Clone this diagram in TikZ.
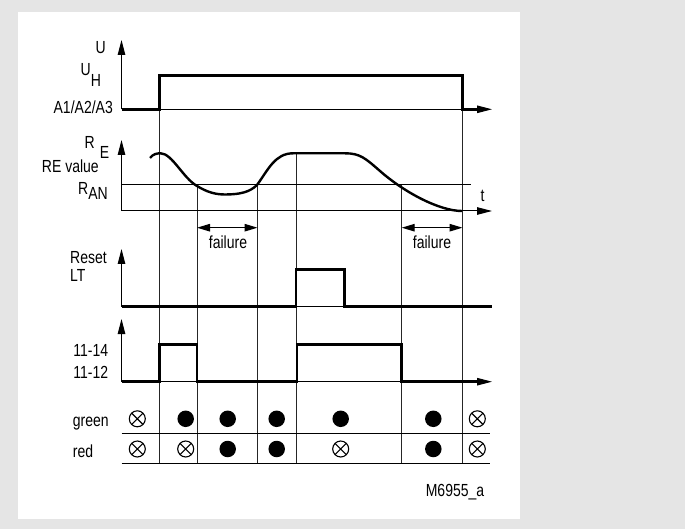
\documentclass[tikz,border=0pt]{standalone}
\usepackage{fontspec}
\setmainfont{Liberation Sans}[FakeStretch=0.8]
\usetikzlibrary{arrows.meta}

\begin{document}
\begin{tikzpicture}[
    x=1pt, y=-1pt,
    every node/.style={font=\fontsize{17.5}{20}\selectfont, inner sep=0pt},
    axis/.style={line width=1pt},
    timeaxis/.style={line width=1pt, -{Triangle[length=15pt, width=7.5pt]}},
    signal/.style={line width=2.6pt, line join=miter},
    timeline/.style={line width=1pt, black!85},
    span/.style={line width=1.2pt, {Triangle[length=13pt, width=7.5pt]}-{Triangle[length=13pt, width=7.5pt]}},
    lampon/.style={circle, fill, minimum size=16.5pt},
    lampoff/.style={circle, draw, line width=1.1pt, minimum size=16pt,
        path picture={\draw[line width=1.1pt] (path picture bounding box.north west) -- (path picture bounding box.south east)
            (path picture bounding box.north east) -- (path picture bounding box.south west);}}
]
% page and panel
\useasboundingbox (0,0) rectangle (685,529);
\fill[black!10] (0,0) rectangle (685,529);
\fill[white] (18,12) rectangle (520,519);

% switching instants
\draw[timeline] (159.5,75.5) -- (159.5,463.3);
\draw[timeline] (197,185) -- (197,463.3);
\draw[timeline] (257.5,185) -- (257.5,463.3);
\draw[timeline] (296,153.3) -- (296,463.3);
\draw[timeline] (401.7,185) -- (401.7,463.3);
\draw[timeline] (462.5,75.5) -- (462.5,463.3);

% supply voltage
\draw[timeaxis] (121.5,109.3) -- (121.5,40);
\draw[timeaxis] (121.5,109.3) -- (492,109.3);
\draw[signal] (121.5,109.3) -- (159.5,109.3) -- (159.5,75.5) -- (462.5,75.5) -- (462.5,109.3) -- (478,109.3);
\node[anchor=base east] (u) at (106,53.3) {U};
\node[anchor=base west] (uh) at (80.5,76) {U\raisebox{-11pt}{H}};
\node[anchor=base east] (a123) at (113,113.3) {A1/A2/A3};

% earth resistance
\draw[timeaxis] (121.5,211) -- (121.5,140);
\draw[timeaxis] (121.5,211) -- (492,211);
\draw[axis] (121.5,185) -- (471,185);
\draw[signal, line width=2.4pt] (150,158) .. controls (153,154) and (157,153.3) .. (160.5,153.3)
    .. controls (172,153.3) and (183,178) .. (197,186)
    .. controls (207,192) and (215,194.5) .. (225,194.5)
    .. controls (240,194.5) and (250,192) .. (257,185)
    .. controls (268,170) and (275,153.3) .. (293,153.3) -- (345,153.3)
    .. controls (360,153.3) and (365,158) .. (380,171)
    .. controls (405,193) and (440,211) .. (462,211);
\node[anchor=base west] (re) at (84.5,149) {R\hspace{5pt}\raisebox{-10pt}{E}};
\node[anchor=base east] (revalue) at (99,172.5) {RE value};
\node[anchor=base west] (ran) at (78,195) {R\raisebox{-5pt}{AN}};
\node[anchor=base] (t) at (482.5,201.7) {t};

% failure spans
\draw[span] (197,227.7) -- (257.5,227.7);
\draw[span] (401.7,227.7) -- (462.5,227.7);
\node[anchor=base] (fail1) at (228,248.3) {failure};
\node[anchor=base] (fail2) at (432,248.3) {failure};

% reset
\draw[timeaxis] (121.5,306.7) -- (121.5,249);
\draw[axis] (121.5,306.7) -- (492,306.7);
\draw[signal] (121.5,306.7) -- (296,306.7) -- (296,269.3) -- (344.3,269.3) -- (344.3,306.7) -- (492,306.7);
\node[anchor=base west] (reset) at (70,264) {Reset};
\node[anchor=base west] (lt) at (70,281.7) {LT};

% output relay
\draw[timeaxis] (121.5,381.7) -- (121.5,319);
\draw[timeaxis] (121.5,381.7) -- (492,381.7);
\draw[signal] (121.5,381.7) -- (159.5,381.7) -- (159.5,344.3) -- (197,344.3) -- (197,381.7) -- (297,381.7)
    -- (297,344.3) -- (401.7,344.3) -- (401.7,381.7) -- (478,381.7);
\node[anchor=base east] (c14) at (108.3,356) {11-14};
\node[anchor=base east] (c12) at (108.3,378.7) {11-12};

% LED table
\draw[axis] (121.5,433.3) -- (490,433.3);
\draw[axis] (121.5,463.3) -- (490,463.3);
\node[anchor=base west] (green) at (72.7,426.7) {green};
\node[anchor=base west] (red) at (72.7,457.3) {red};
\foreach \x/\g/\r [count=\i] in {137.3/lampoff/lampoff, 185.7/lampon/lampoff, 227.7/lampon/lampon,
    276.7/lampon/lampon, 340.7/lampon/lampoff, 433.3/lampon/lampon, 477.3/lampoff/lampoff}
{
    \node[\g] (g\i) at (\x,418.8) {};
    \node[\r] (r\i) at (\x,449) {};
}

\node[anchor=base] (code) at (455,496.7) {M6955\_a};
\end{tikzpicture}
\end{document}
